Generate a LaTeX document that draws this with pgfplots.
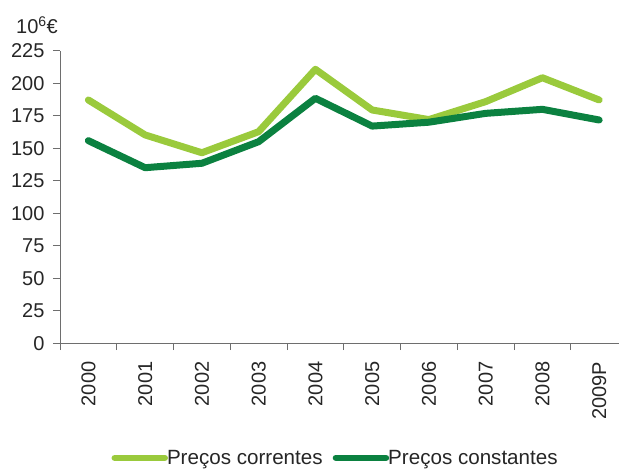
\documentclass[border=0pt]{standalone}
\usepackage{fontspec}
\setmainfont{Liberation Sans}
\usepackage{pgfplots}
\pgfplotsset{compat=1.18}
\definecolor{lgreen}{RGB}{154,202,60}
\definecolor{dgreen}{RGB}{11,129,64}
\definecolor{axgray}{RGB}{110,110,110}
\begin{document}
\begin{tikzpicture}
\useasboundingbox (-60bp,-126.8bp) rectangle (559bp,343.2bp);
\begin{axis}[
  scale only axis, width=559bp, height=292.5bp,
  at={(0bp,0bp)}, anchor=south west,
  xmin=-0.5, xmax=9.35, ymin=0, ymax=225,
  axis x line=bottom, axis y line=left,
  axis line style={-, axgray, line width=1bp},
  ytick={0,25,...,225},
  xtick={0,...,9},
  xticklabels={2000,2001,2002,2003,2004,2005,2006,2007,2008,2009P},
  major x tick style={draw=none},
  minor xtick={-0.5,0.5,...,8.5},
  tick align=outside, major tick length=7bp, minor tick length=7bp,
  tick style={axgray, line width=1bp},
  every tick/.style={axgray, line width=1bp},
  x tick label style={rotate=90, anchor=east, xshift=-8bp},
  y tick label style={xshift=-5bp},
  ticklabel style={font=\fontsize{20bp}{24bp}\selectfont, text=black!85},
  /pgf/number format/assume math mode=true,
  clip=false,
  legend style={at={(axis description cs:0.493,-0.392)}, anchor=center, draw=none,
    legend columns=2, font=\fontsize{20.6bp}{24bp}\selectfont, text=black!85,
    /tikz/every even column/.append style={column sep=8bp},
    /tikz/every odd column/.append style={column sep=-3bp}},
  legend image code/.code={\draw[#1, line cap=round, line width=6.5bp] (0bp,0bp) -- (50bp,0bp);},
]
\addplot[lgreen, line width=7bp, line join=round, line cap=round] coordinates {
 (0,187.1) (1,160.2) (2,146.5) (3,162.7) (4,210.7) (5,179.4) (6,172.0) (7,185.8) (8,204.2) (9,187.1)};
\addlegendentry{Preços correntes}
\addplot[dgreen, line width=7bp, line join=round, line cap=round] coordinates {
 (0,155.8) (1,135.0) (2,138.4) (3,155.0) (4,188.4) (5,167.0) (6,170.0) (7,176.8) (8,179.9) (9,171.7)};
\addlegendentry{Preços constantes}
\end{axis}
\node[font=\fontsize{20bp}{24bp}\selectfont, text=black!85] at (-23bp,318bp) {10\textsuperscript{6}€};
\end{tikzpicture}
\end{document}
